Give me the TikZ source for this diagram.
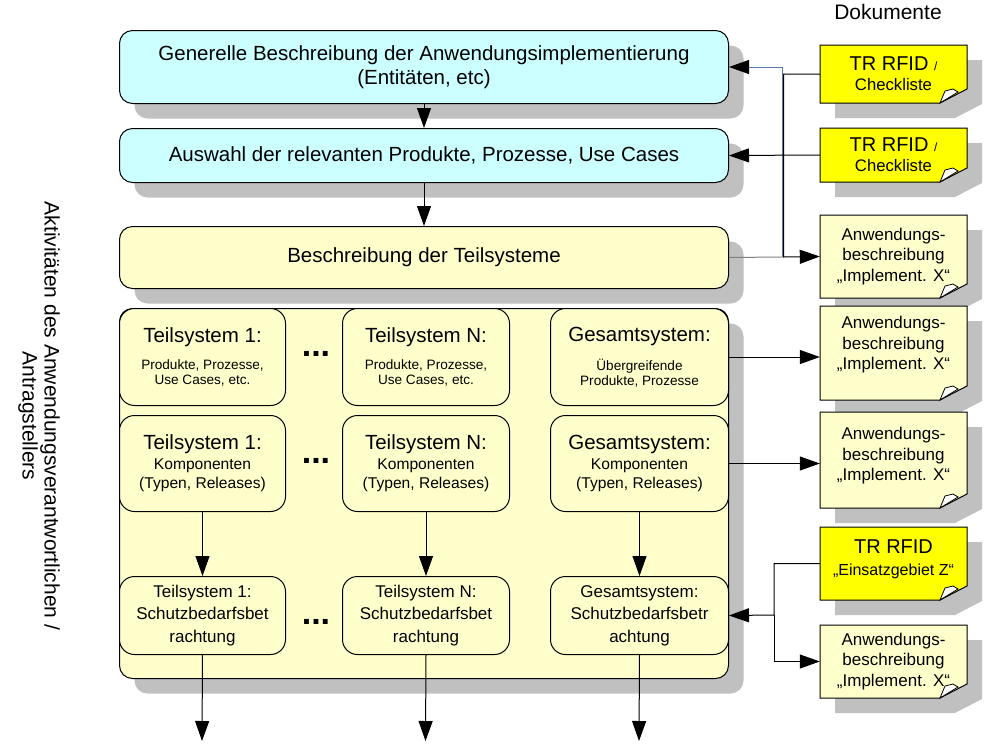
\documentclass[tikz,border=0pt]{standalone}
\usepackage{fontspec}
\setmainfont{Liberation Sans}
\usetikzlibrary{shadows,arrows.meta,calc}
\definecolor{cyanbox}{HTML}{CCFFFF}
\definecolor{lyellow}{HTML}{FFFFCC}
\definecolor{byellow}{HTML}{FFFF00}
\definecolor{shd}{HTML}{C0C0C0}
\definecolor{linkblue}{HTML}{5A78A8}
\definecolor{linkgray}{HTML}{808080}
\newcommand\fs[2]{\fontsize{#1}{#2}\selectfont}
\tikzset{
 box/.style={draw=black, line width=1pt, rounded corners=13pt, inner sep=0pt, align=center, anchor=north west,
   general shadow={fill=shd, shadow xshift=15pt, shadow yshift=-15pt}},
 cell/.style={draw=black, line width=1pt, rounded corners=15pt, inner sep=0pt, align=center, anchor=north west, fill=lyellow},
 arr/.style={line width=1pt, -{Triangle[length=20pt,width=14pt,color=black]}},
 plain/.style={line width=1pt},
 notebord/.style={draw=black, line width=1pt},
 notetext/.style={align=center, inner sep=0pt},
 dotsnode/.style={font=\fs{34}{34}\bfseries, inner sep=0pt},
}
% name, L, T, R, B, fill, text yshift, font, text
\newcommand\docnote[9]{%
  \fill[shd] (#2+15,#3+15) -- (#4+15,#3+15) -- (#4+15,#5+1) -- (#4-12,#5+15) -- (#2+15,#5+15) -- cycle;
  \filldraw[notebord, fill=#6] (#2,#3) -- (#4,#3) -- (#4,#5-14) -- (#4-27,#5) -- (#2,#5) -- cycle;
  \filldraw[notebord, fill=white, line width=0.8pt] (#4-27,#5) -- (#4-22,#5-12) -- (#4-14,#5-14) -- (#4-9,#5-11) -- cycle;
  \node[inner sep=0pt, minimum width={#4-#2}, minimum height={#5-#3}] (#1) at ({(#2+#4)/2},{(#3+#5)/2}) {};
  \node[notetext, yshift=#7, font=#8] (#1t) at (#1.center) {#9};
}
\begin{document}
\begin{tikzpicture}[x=1pt,y=-1pt]
\useasboundingbox (0,0) rectangle (991,745);

% side text and header
\node[rotate=-90, align=center, font=\fs{21}{22}] (side) at (39,416) {Aktivitäten des Anwendungsverantwortlichen /\\Antragstellers};
\node[font=\fs{21}{24}] (doc) at (888,12) {Dokumente};

% main boxes
\node[box, fill=cyanbox, minimum width=609pt, minimum height=73pt, font=\fs{20.5}{24}] (b1) at (119,30)
  {Generelle Beschreibung der Anwendungsimplementierung\\(Entitäten, etc)};
\node[box, fill=cyanbox, minimum width=609pt, minimum height=54pt, font=\fs{20.5}{24}] (b2) at (119,128)
  {Auswahl der relevanten Produkte, Prozesse, Use Cases};
\node[box, fill=lyellow, minimum width=609pt, minimum height=62pt, font=\fs{20.5}{24}] (b3) at (119,226)
  {Beschreibung der Teilsysteme};
\node[box, fill=lyellow, minimum width=609pt, minimum height=370pt] (cont) at (119,308) {};

% cells row 1
\node[cell, minimum width=166pt, minimum height=97pt, font=\fs{13.6}{15}] (c11) at (119,308)
  {{\fs{20.5}{24}Teilsystem 1:}\\[12pt]Produkte, Prozesse,\\Use Cases, etc.};
\node[cell, minimum width=167pt, minimum height=97pt, font=\fs{13.6}{15}] (c12) at (342,308)
  {{\fs{20.5}{24}Teilsystem N:}\\[12pt]Produkte, Prozesse,\\Use Cases, etc.};
\node[cell, minimum width=178pt, minimum height=97pt, font=\fs{13.6}{15}] (c13) at (550,308)
  {{\fs{20.5}{24}Gesamtsystem:}\\[12pt]Übergreifende\\Produkte, Prozesse};
% cells row 2
\node[cell, minimum width=166pt, minimum height=96pt, font=\fs{15.6}{19.5}] (c21) at (119,415)
  {{\fs{20.5}{24}Teilsystem 1:}\\Komponenten\\(Typen, Releases)};
\node[cell, minimum width=167pt, minimum height=96pt, font=\fs{15.6}{19.5}] (c22) at (342,415)
  {{\fs{20.5}{24}Teilsystem N:}\\Komponenten\\(Typen, Releases)};
\node[cell, minimum width=178pt, minimum height=96pt, font=\fs{15.6}{19.5}] (c23) at (550,415)
  {{\fs{20.5}{24}Gesamtsystem:}\\Komponenten\\(Typen, Releases)};
% cells row 3
\node[cell, minimum width=166pt, minimum height=78pt, font=\fs{17}{22.5}] (c31) at (119,576)
  {Teilsystem 1:\\Schutzbedarfsbet\\rachtung};
\node[cell, minimum width=167pt, minimum height=78pt, font=\fs{17}{22.5}] (c32) at (342,576)
  {Teilsystem N:\\Schutzbedarfsbet\\rachtung};
\node[cell, minimum width=178pt, minimum height=78pt, font=\fs{17}{22.5}] (c33) at (550,576)
  {Gesamtsystem:\\Schutzbedarfsbetr\\achtung};

% dots
\node[dotsnode] (d1) at (316,354) {...};
\node[dotsnode] (d2) at (316,461) {...};
\node[dotsnode] (d3) at (316,622) {...};

% documents
\docnote{n1}{820}{45}{967}{103}{byellow}{0pt}{\fs{20}{20}}{TR RFID {\fs{12}{20}/}\\{\fs{16.7}{20}Checkliste}}
\docnote{n2}{820}{128}{967}{182}{byellow}{0pt}{\fs{20}{20}}{TR RFID {\fs{12}{20}/}\\{\fs{16.7}{20}Checkliste}}
\docnote{n3}{820}{215}{967}{298}{lyellow}{0pt}{\fs{17}{20.5}}{Anwendungs-\\beschreibung\\„Implement. X“}
\docnote{n4}{820}{306}{967}{400}{lyellow}{8pt}{\fs{17}{20.5}}{Anwendungs-\\beschreibung\\„Implement. X“}
\docnote{n5}{820}{412}{967}{508}{lyellow}{4pt}{\fs{17}{20.5}}{Anwendungs-\\beschreibung\\„Implement. X“}
\docnote{n6}{820}{527}{967}{600}{byellow}{4pt}{\fs{20}{21.5}}{TR RFID\\{\fs{16}{21.5}„Einsatzgebiet Z“}}
\docnote{n7}{820}{625}{967}{698}{lyellow}{0pt}{\fs{17}{20.5}}{Anwendungs-\\beschreibung\\„Implement. X“}

% junctions and free ends
\coordinate (j1) at (782,257);
\coordinate (j1b) at (783.5,257);
\coordinate (j2) at (774,615);
\coordinate (e1) at (202,741);
\coordinate (e2) at (425.5,741);
\coordinate (e3) at (639,741);

% vertical flow
\draw[arr] (b1.south) -- (b2.north);
\draw[arr] (b2.south) -- (b3.north);
\draw[arr] (c21.south) -- (c31.north);
\draw[arr] (c22.south) -- (c32.north);
\draw[arr] (c23.south) -- (c33.north);
\draw[arr] (c31.south) -- (e1);
\draw[arr] (c32.south) -- (e2);
\draw[arr] (c33.south) -- (e3);

% document connectors
\draw[plain, linkgray] (b3.east) -- (j1);
\draw[arr, linkblue] (j1) |- (b1.east);
\draw[arr] (n1.west) -| (j1b) -- (n3.west);
\draw[arr] (n2.west) -- (b2.east);
\draw[arr] (c13.east) -- (c13.east -| n4.west);
\draw[arr] (c23.east) -- (c23.east -| n5.west);
\draw[arr] (n6.west) -| (j2) -- (c33.east);
\draw[arr] (j2) |- (n7.west);
\end{tikzpicture}
\end{document}
